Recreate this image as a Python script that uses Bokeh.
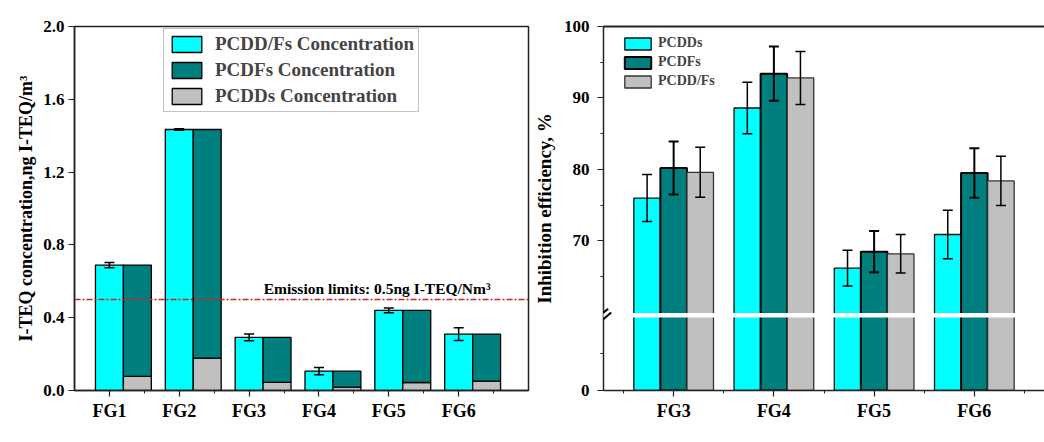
import numpy as np
from bokeh.plotting import figure
from bokeh.models import (Range1d, FixedTicker, ColumnDataSource, Whisker, TeeHead, Span, Label,
                          Legend, LegendItem, BoxAnnotation, LinearAxis, CustomJSTickFormatter,
                          PrintfTickFormatter)
from bokeh.layouts import row
from bokeh.embed import file_html
from bokeh.resources import INLINE

# ---------------- data: panel (a) ----------------
groups_a = ["FG1", "FG2", "FG3", "FG4", "FG5", "FG6"]
pcdd_fs_conc = [0.689, 1.434, 0.292, 0.106, 0.440, 0.310]
pcdd_fs_err = [0.014, 0.004, 0.018, 0.020, 0.013, 0.035]
pcdds_conc = [0.078, 0.178, 0.045, 0.019, 0.044, 0.052]
pcdfs_conc = [0.611, 1.256, 0.247, 0.087, 0.396, 0.258]
emission_limit = 0.5
y_ticks_a = [0.0, 0.4, 0.8, 1.2, 1.6, 2.0]

# ---------------- data: panel (b) ----------------
groups_b = ["FG3", "FG4", "FG5", "FG6"]
eff_pcdds = [76.0, 88.6, 66.2, 70.9]
eff_pcdds_err = [3.3, 3.6, 2.5, 3.4]
eff_pcdfs = [80.2, 93.4, 68.5, 79.5]
eff_pcdfs_err = [3.7, 3.8, 2.9, 3.45]
eff_pcddfs = [79.6, 92.8, 68.2, 78.4]
eff_pcddfs_err = [3.5, 3.7, 2.7, 3.45]
y_ticks_b = [70, 80, 90, 100]

# ---------------- style ----------------
FONT = "Liberation Serif"
CYAN = "#00FFFF"
TEAL = "#007F7F"
GRAY = "#C0C0C0"
AXC = "#222222"


def style_axis(ax, size):
    ax.axis_line_color = AXC
    ax.axis_line_width = 1.5
    ax.major_tick_line_color = AXC
    ax.minor_tick_line_color = AXC
    ax.major_tick_line_width = 1.2
    ax.minor_tick_line_width = 1.0
    ax.major_tick_in = 0
    ax.major_tick_out = 6
    ax.minor_tick_in = 0
    ax.minor_tick_out = 3
    ax.major_label_text_font = FONT
    ax.major_label_text_font_style = "bold"
    ax.major_label_text_font_size = size
    ax.major_label_text_color = "black"
    ax.axis_label_text_font = FONT
    ax.axis_label_text_font_style = "bold"
    ax.axis_label_text_color = "black"


# =============== panel (a) ===============
pa = figure(width=530, height=442, x_range=Range1d(0.5, 7.0), y_range=Range1d(0, 2.0),
            output_backend="svg", toolbar_location=None,
            min_border_left=74, min_border_right=2, min_border_top=26, min_border_bottom=52)
pa.grid.visible = False
pa.outline_line_color = AXC
pa.outline_line_width = 1.5
pa.background_fill_color = "white"
pa.border_fill_color = "white"

xa = np.arange(1, len(groups_a) + 1, dtype=float)
tot = np.array(pcdd_fs_conc)
err = np.array(pcdd_fs_err)
src_a = ColumnDataSource(dict(x=xa, x2=xa + 0.4, total=tot, lo=tot - err, hi=tot + err,
                              pcdds=pcdds_conc, pcdfs=pcdfs_conc))

r_cyan = pa.vbar(x="x", width=0.4, bottom=0, top="total", source=src_a,
                 fill_color=CYAN, line_color="black", line_width=1.3)
r_stack = pa.vbar_stack(["pcdds", "pcdfs"], x="x2", width=0.4, source=src_a,
                        fill_color=[GRAY, TEAL], line_color="black", line_width=1.3)

wa = Whisker(base="x", upper="hi", lower="lo", source=src_a, line_color="black", line_width=1.5,
             level="overlay",
             upper_head=TeeHead(size=10, line_width=1.5, line_color="black"),
             lower_head=TeeHead(size=10, line_width=1.5, line_color="black"))
pa.add_layout(wa)

pa.add_layout(Span(location=emission_limit, dimension="width", line_color="#C8262B",
                   line_width=1.5, line_dash="6 2 2 2"))
pa.add_layout(Label(x=3.21, y=emission_limit, y_offset=11, text="Emission limits: 0.5ng I-TEQ/Nm³",
                    text_font=FONT, text_font_style="bold", text_font_size="15.5px",
                    text_baseline="alphabetic", text_color="black"))

leg_a = Legend(items=[LegendItem(label="PCDD/Fs Concentration", renderers=[r_cyan]),
                      LegendItem(label="PCDFs Concentration", renderers=[r_stack[1]]),
                      LegendItem(label="PCDDs Concentration", renderers=[r_stack[0]])],
               location=(89, 278), glyph_width=37, glyph_height=20, label_height=20,
               spacing=4, padding=4, label_standoff=10, margin=0,
               label_text_font=FONT, label_text_font_style="bold", label_text_font_size="19px",
               border_line_color="#888888", border_line_width=1, background_fill_color="white")
pa.add_layout(leg_a)

pa.xaxis.ticker = FixedTicker(ticks=list(xa), minor_ticks=list(xa + 0.5))
pa.xaxis.major_label_overrides = {int(i): g for i, g in zip(xa, groups_a)}
pa.yaxis.ticker = FixedTicker(ticks=y_ticks_a, minor_ticks=[])
pa.yaxis.formatter = PrintfTickFormatter(format="%.1f")
style_axis(pa.xaxis[0], "18px")
style_axis(pa.yaxis[0], "17px")
pa.xaxis.major_label_standoff = 4
pa.yaxis.major_label_standoff = 4
pa.yaxis.axis_label = "I-TEQ concentration,ng I-TEQ/m³"
pa.yaxis.axis_label_text_font_size = "18px"
pa.yaxis.axis_label_standoff = 4

pa.add_layout(Label(x=3.53, y=-0.22, text="(a)", text_font=FONT, text_font_style="bold",
                    text_font_size="20px", text_align="center", text_baseline="middle",
                    text_color="black"))

# =============== panel (b) ===============
Y0 = 49.07      # display position of value 0 (below the axis break)
BREAK_LO, BREAK_HI = 59.3, 59.9

pb = figure(width=514, height=442, x_range=Range1d(0.3, 4.7), y_range=Range1d(Y0, 100),
            output_backend="svg", toolbar_location=None,
            min_border_left=71, min_border_right=0, min_border_top=25, min_border_bottom=52)
pb.grid.visible = False
pb.outline_line_color = None
pb.background_fill_color = "white"
pb.border_fill_color = "white"

xb = np.arange(1, len(groups_b) + 1, dtype=float)
off = 0.265


def src_b(vals, errs, dx):
    v = np.array(vals)
    e = np.array(errs)
    return ColumnDataSource(dict(x=xb + dx, top=v, lo=v - e, hi=v + e))


s1 = src_b(eff_pcdds, eff_pcdds_err, -off)
s2 = src_b(eff_pcdfs, eff_pcdfs_err, 0.0)
s3 = src_b(eff_pcddfs, eff_pcddfs_err, off)

rb1 = pb.vbar(x="x", width=off, bottom=Y0, top="top", source=s1, fill_color=CYAN,
              line_color="#111111", line_width=1.3)
rb2 = pb.vbar(x="x", width=off, bottom=Y0, top="top", source=s2, fill_color=TEAL,
              line_color="black", line_width=2)
rb3 = pb.vbar(x="x", width=off, bottom=Y0, top="top", source=s3, fill_color=GRAY,
              line_color="#333333", line_width=1.3)

for s, lw in ((s1, 1.5), (s2, 2.0), (s3, 1.5)):
    pb.add_layout(Whisker(base="x", upper="hi", lower="lo", source=s, line_color="black",
                          line_width=lw, level="overlay",
                          upper_head=TeeHead(size=10, line_width=lw, line_color="black"),
                          lower_head=TeeHead(size=10, line_width=lw, line_color="black")))

# axis break
pb.add_layout(BoxAnnotation(left=0.27, right=4.7, bottom=BREAK_LO, top=BREAK_HI,
                            fill_color="white", fill_alpha=1.0, line_color=None, level="overlay"))
pb.add_layout(Label(x=0.3, y=(BREAK_LO + BREAK_HI) / 2, text="=", angle=0.7,
                    text_font="DejaVu Sans", text_font_size="24px", text_align="center",
                    text_baseline="middle", text_color="black", level="overlay"))

leg_b = Legend(items=[LegendItem(label="PCDDs", renderers=[rb1]),
                      LegendItem(label="PCDFs", renderers=[rb2]),
                      LegendItem(label="PCDD/Fs", renderers=[rb3])],
               location=(18, 301), glyph_width=33, glyph_height=15, label_height=15,
               spacing=3, padding=0, label_standoff=4, margin=0,
               label_text_font=FONT, label_text_font_style="bold", label_text_font_size="14px",
               border_line_color=None, background_fill_alpha=0)
pb.add_layout(leg_b)

pb.xaxis.ticker = FixedTicker(ticks=list(xb), minor_ticks=list(np.arange(0.5, 5.0, 1.0)))
pb.xaxis.major_label_overrides = {int(i): g for i, g in zip(xb, groups_b)}
pb.yaxis.ticker = FixedTicker(ticks=[Y0] + y_ticks_b,
                              minor_ticks=[(Y0 + BREAK_LO) / 2, 65, 75, 85, 95])
pb.yaxis.formatter = CustomJSTickFormatter(code="return tick < 60 ? '0' : tick.toFixed(0);")
style_axis(pb.xaxis[0], "18px")
style_axis(pb.yaxis[0], "17px")
pb.xaxis.major_label_standoff = 4
pb.yaxis.major_label_standoff = 8
pb.yaxis.axis_label = "Inhibition efficiency, %"
pb.yaxis.axis_label_text_font_size = "19px"
pb.yaxis.axis_label_standoff = 6

top_ax = LinearAxis(ticker=FixedTicker(ticks=[]), major_label_text_font_size="0px",
                    axis_line_color=AXC, axis_line_width=2,
                    major_tick_line_color=None, minor_tick_line_color=None)
pb.add_layout(top_ax, "above")

pb.add_layout(Label(x=2.425, y=Y0 - 5.3, text="(b)", text_font=FONT, text_font_style="bold",
                    text_font_size="21px", text_align="center", text_baseline="middle",
                    text_color="black"))

layout = row(pa, pb)
open("out.html", "w").write(file_html(layout, INLINE))
